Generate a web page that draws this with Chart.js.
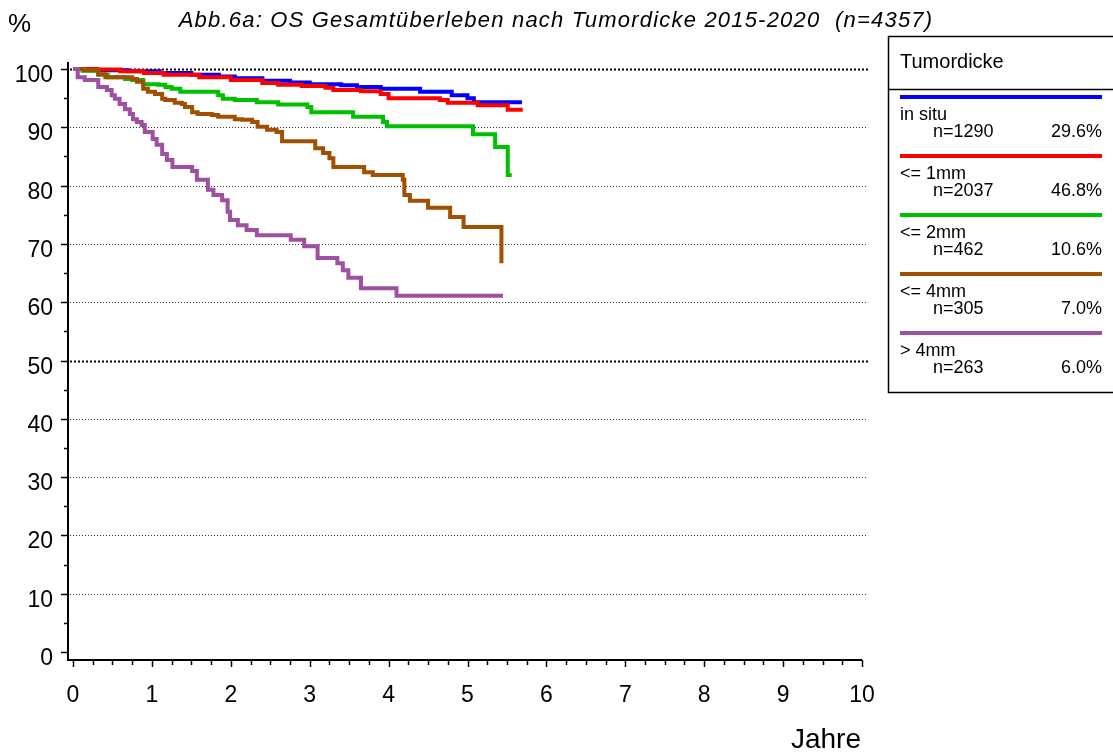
<!DOCTYPE html>
<html>
<head>
<meta charset="utf-8">
<script src="https://cdn.jsdelivr.net/npm/chart.js@4.4.0/dist/chart.umd.min.js"></script>
<style>
    html, body { margin: 0; padding: 0; background: #fff; }
    #wrap { position: relative; width: 1113px; height: 756px; }
</style>
</head>
<body>
<div id="wrap"><canvas id="km-chart"></canvas></div>
<script>
// Kaplan-Meier steps: time (years) of each drop and survival (%) after it
const groupNames = ['in situ', '<= 1mm', '<= 2mm', '<= 4mm', '> 4mm'];
const groupN = ['n=1290', 'n=2037', 'n=462', 'n=305', 'n=263'];
const groupShare = ['29.6%', '46.8%', '10.6%', '7.0%', '6.0%'];
const groupColors = ['#0000ff', '#ff0000', '#00c000', '#a05000', '#a050a0'];

const inSituYears = [0, 0.3, 0.7, 1.1, 1.5, 1.85, 2.05, 2.4, 2.75, 3.0, 3.4, 3.6, 3.9, 4.4, 4.8, 5.0, 5.08, 5.69];
const inSituSurv  = [100, 99.8, 99.6, 99.3, 99.0, 98.7, 98.4, 98.0, 97.7, 97.4, 97.2, 96.9, 96.6, 96.1, 95.5, 95.0, 94.3, 94.3];

const mm1Years = [0, 0.3, 0.6, 0.9, 1.15, 1.6, 2.0, 2.4, 2.6, 2.9, 3.2, 3.3, 3.65, 3.9, 4.0, 4.65, 4.75, 5.13, 5.51, 5.70];
const mm1Surv  = [100, 99.9, 99.6, 99.3, 99.0, 98.6, 98.1, 97.6, 97.3, 97.1, 96.8, 96.4, 96.2, 95.7, 95.0, 94.7, 94.2, 93.8, 93.0, 93.0];

const mm2Years = [0, 0.12, 0.32, 0.44, 0.66, 0.75, 0.89, 1.08, 1.17, 1.25, 1.36, 1.84, 1.90, 2.05, 2.33, 2.60, 2.97, 3.02, 3.55, 3.93, 3.98, 5.07, 5.35, 5.51, 5.56];
const mm2Surv  = [100, 99.7, 99.0, 98.6, 98.3, 98.1, 97.4, 97.3, 96.9, 96.6, 96.1, 95.5, 94.9, 94.7, 94.3, 93.9, 93.5, 92.6, 91.8, 90.9, 90.2, 88.8, 86.6, 81.8, 81.8];

const mm4Years = [0, 0.15, 0.32, 0.41, 0.75, 0.81, 0.89, 0.95, 1.04, 1.13, 1.17, 1.29, 1.38, 1.42, 1.51, 1.58, 1.76, 1.84, 2.05, 2.14, 2.27, 2.34, 2.46, 2.58, 2.65, 3.07, 3.17, 3.25, 3.30, 3.69, 3.80, 4.18, 4.20, 4.27, 4.50, 4.78, 4.95, 5.43];
const mm4Surv  = [100, 99.8, 99.1, 98.6, 98.3, 97.8, 96.6, 96.1, 95.7, 94.9, 94.7, 94.2, 94.0, 93.5, 92.6, 92.3, 92.1, 91.8, 91.4, 91.3, 90.9, 90.1, 89.6, 89.2, 87.6, 86.4, 85.6, 84.7, 83.2, 82.3, 81.8, 81.0, 78.4, 77.4, 76.2, 74.6, 72.9, 66.7];

const gt4Years = [0, 0.06, 0.15, 0.32, 0.43, 0.49, 0.53, 0.59, 0.66, 0.72, 0.76, 0.81, 0.87, 0.91, 1.01, 1.06, 1.13, 1.19, 1.26, 1.51, 1.57, 1.71, 1.78, 1.89, 1.96, 1.99, 2.09, 2.20, 2.33, 2.76, 2.93, 3.10, 3.35, 3.42, 3.49, 3.65, 4.10, 5.45];
const gt4Surv  = [100, 98.6, 98.1, 96.9, 96.4, 95.5, 94.9, 94.0, 93.1, 92.3, 91.4, 90.9, 90.4, 89.2, 88.0, 87.0, 85.4, 84.4, 83.2, 82.5, 81.0, 79.3, 78.4, 77.5, 75.5, 74.1, 73.2, 72.4, 71.5, 70.7, 69.6, 67.6, 66.7, 65.5, 64.2, 62.4, 61.1, 61.1];

const yTicks = [0, 10, 20, 30, 40, 50, 60, 70, 80, 90, 100];
const xTicks = [0, 1, 2, 3, 4, 5, 6, 7, 8, 9, 10];

const allYears = [inSituYears, mm1Years, mm2Years, mm4Years, gt4Years];
const allSurv = [inSituSurv, mm1Surv, mm2Surv, mm4Surv, gt4Surv];

const FONT = '"Liberation Sans", Arial, sans-serif';

// Axes, grid, title and legend box drawn by hand to mimic the SPSS-style frame
const frame = {
    id: 'frame',
    beforeDatasetsDraw(chart) {
        const ctx = chart.ctx;
        const xs = chart.scales.x;
        const ys = chart.scales.y;
        const left = xs.getPixelForValue(0);
        const right = xs.getPixelForValue(10);
        const axisX = left - 5;
        const axisY = ys.getPixelForValue(0) + 8;

        ctx.save();
        // dotted grid lines
        yTicks.forEach(v => {
            if (v === 0) return;
            const y = Math.round(ys.getPixelForValue(v)) + 0.5;
            const bold = (v === 100 || v === 50);
            ctx.beginPath();
            ctx.setLineDash(bold ? [2, 2] : [1, 2]);
            ctx.lineWidth = bold ? 2 : 1;
            ctx.strokeStyle = bold ? '#000' : '#333';
            ctx.moveTo(axisX + 2, y);
            ctx.lineTo(right + 6, y);
            ctx.stroke();
        });
        ctx.setLineDash([]);

        // axis lines
        ctx.strokeStyle = '#000';
        ctx.lineWidth = 2;
        ctx.beginPath();
        ctx.moveTo(axisX, ys.getPixelForValue(100) - 7);
        ctx.lineTo(axisX, axisY);
        ctx.lineTo(right, axisY);
        ctx.stroke();

        // y ticks
        ctx.lineWidth = 1.5;
        for (let v = 0; v <= 100; v += 5) {
            const y = Math.round(ys.getPixelForValue(v)) + 0.5;
            const len = v % 10 === 0 ? 7 : 4;
            ctx.beginPath();
            ctx.moveTo(axisX - len, y);
            ctx.lineTo(axisX, y);
            ctx.stroke();
        }
        // x ticks
        for (let v = 0; v <= 10.001; v += 0.25) {
            const x = Math.round(xs.getPixelForValue(v)) + 0.5;
            const len = Math.abs(v - Math.round(v)) < 0.01 ? 7 : 5;
            ctx.beginPath();
            ctx.moveTo(x, axisY);
            ctx.lineTo(x, axisY + len);
            ctx.stroke();
        }

        // tick labels
        ctx.fillStyle = '#000';
        ctx.font = '23px ' + FONT;
        ctx.textAlign = 'right';
        ctx.textBaseline = 'alphabetic';
        yTicks.forEach(v => {
            ctx.fillText(String(v), axisX - 15, ys.getPixelForValue(v) + 13);
        });
        ctx.textAlign = 'center';
        xTicks.forEach(v => {
            ctx.fillText(String(v), xs.getPixelForValue(v), 702);
        });

        // axis titles and chart title
        ctx.font = '26px ' + FONT;
        ctx.textAlign = 'left';
        ctx.fillText('%', 8, 32);
        ctx.font = '28px ' + FONT;
        ctx.textAlign = 'center';
        ctx.fillText('Jahre', 826, 748);
        ctx.font = 'italic 22px ' + FONT;
        ctx.letterSpacing = '1.2px';
        ctx.fillText('Abb.6a: OS Gesamtüberleben nach Tumordicke 2015-2020  (n=4357)', 556, 27);
        ctx.letterSpacing = '0px';

        // legend box
        ctx.lineWidth = 1.5;
        ctx.strokeRect(888.5, 36.5, 240, 356);
        ctx.beginPath();
        ctx.moveTo(888, 89.5);
        ctx.lineTo(1113, 89.5);
        ctx.stroke();
        ctx.textAlign = 'left';
        ctx.font = '20px ' + FONT;
        ctx.fillText('Tumordicke', 900, 68);

        groupNames.forEach((name, i) => {
            const top = 97 + i * 59;
            ctx.strokeStyle = groupColors[i];
            ctx.lineWidth = 4;
            ctx.beginPath();
            ctx.moveTo(900, top);
            ctx.lineTo(1102, top);
            ctx.stroke();
            ctx.fillStyle = '#000';
            ctx.font = '18px ' + FONT;
            ctx.textAlign = 'left';
            ctx.fillText(name, 900, top + 23);
            ctx.fillText(groupN[i], 933, top + 40);
            ctx.textAlign = 'right';
            ctx.fillText(groupShare[i], 1102, top + 40);
        });
        ctx.restore();
    }
};

const datasets = groupNames.map((name, i) => ({
    label: name,
    data: allYears[i].map((t, j) => ({ x: t, y: allSurv[i][j] })),
    borderColor: groupColors[i],
    borderWidth: 4,
    pointRadius: 0,
    stepped: true,
    fill: false,
    order: groupNames.length - i,
    clip: 4
}));

new Chart(document.getElementById('km-chart'), {
    type: 'line',
    data: { datasets: datasets },
    options: {
        responsive: true,
        maintainAspectRatio: false,
        animation: false,
        layout: {
            padding: { left: 73, right: 251, top: 69, bottom: 104 }
        },
        plugins: {
            legend: { display: false },
            tooltip: { enabled: false }
        },
        scales: {
            x: { type: 'linear', min: 0, max: 10, display: false },
            y: { type: 'linear', min: 0, max: 100, display: false }
        }
    },
    plugins: [frame]
});
</script>
</body>
</html>
